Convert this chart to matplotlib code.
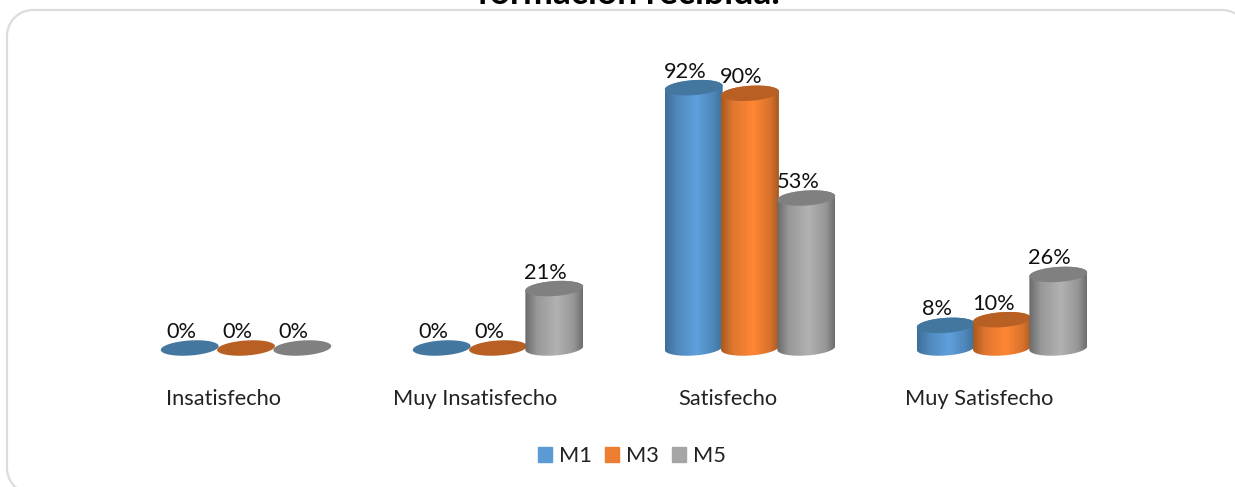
import numpy as np
import matplotlib
matplotlib.use('Agg')
import matplotlib.pyplot as plt
from matplotlib.colors import LinearSegmentedColormap
from matplotlib.patches import Patch, PathPatch, Polygon
from matplotlib.path import Path

categories = ['Insatisfecho', 'Muy Insatisfecho', 'Satisfecho', 'Muy Satisfecho']
series = ['M1', 'M3', 'M5']
m1 = [0, 0, 92, 8]
m3 = [0, 0, 90, 10]
m5 = [0, 21, 53, 26]
title = 'formación recibida.'

W, H = 1235, 487
base_px, unit_px = 348, 2.83  # y of the zero line, pixels per percent
first_px, group_px = 246, 252  # x of first group, distance between groups
bar_step = 56.3 / group_px
rx, ry, tilt = 29 / group_px, 7.5 / unit_px, np.radians(4)

legend_cols = ['#5b9bd5', '#ed7d31', '#a5a5a5']
top_cols = ['#44779f', '#b86024', '#808080']
grads = [['#3f6f98', '#4f88bb', '#5ea0de', '#4d85b6', '#3f7199'],
         ['#a85a20', '#df7630', '#ff8734', '#d9722c', '#a95b22'],
         ['#6a6a6a', '#989898', '#b2b2b2', '#969696', '#6e6e6e']]
stops = [0, 0.2, 0.55, 0.85, 1]

fig = plt.figure(figsize=(W / 100, H / 100), dpi=100)
plt.rcParams['font.family'] = ['Lato', 'DejaVu Sans']
ax = fig.add_axes([0, 0, 1, 1])
ax.axis('off')

# rounded chart border, in pixels, it runs past the right and bottom edges
left, right, top, bottom, rad = 7, 1248, 10, 494, 26
pts = []
for cx, cy, a0 in [(left + rad, top + rad, 180), (right - rad, top + rad, 270),
                   (right - rad, bottom - rad, 0), (left + rad, bottom - rad, 90)]:
    ang = np.radians(np.linspace(a0, a0 + 90, 20))
    pts += list(zip(cx + rad * np.cos(ang), H - (cy + rad * np.sin(ang))))
frame = PathPatch(Path(pts + pts[:1]), transform=None, fc='none', ec='#dcdcdc', lw=1.6, zorder=0)
ax.add_patch(frame)


def ellipse(cx, cy, a=0, b=np.pi * 2):
    t = np.linspace(a, b, 60)
    # tilt is done in pixel space so the shape does not depend on the scales
    px = rx * group_px * np.cos(t)
    py = ry * unit_px * np.sin(t)
    xx = px * np.cos(tilt) - py * np.sin(tilt)
    yy = px * np.sin(tilt) + py * np.cos(tilt)
    return cx + xx / group_px, cy + yy / unit_px


for s, vals in enumerate([m1, m3, m5]):
    cmap = LinearSegmentedColormap.from_list('c', list(zip(stops, grads[s])))
    for i, v in enumerate(vals):
        x = i + (s - 1) * bar_step
        z = 2 + s
        if v > 0:
            bx, by = ellipse(x, 0, np.pi, 2 * np.pi)
            tx, ty = ellipse(x, v, 0, np.pi)
            body = Polygon(np.c_[np.r_[bx, tx], np.r_[by, ty]], fc='none', ec='none',
                           transform=ax.transData, zorder=z)
            ax.add_patch(body)
            im = ax.imshow(np.linspace(0, 1, 100)[None, :], cmap=cmap, aspect='auto',
                           extent=(x - rx, x + rx, -5, v + 5), zorder=z)
            im.set_clip_path(body)
        ex, ey = ellipse(x, v)
        ax.add_patch(Polygon(np.c_[ex, ey], fc=top_cols[s], ec='none', zorder=z))
        ax.text(x - 8.5 / group_px, v + 16 / unit_px, f'{v}%', ha='center', va='center',
                fontsize=15.7, color='#111111', zorder=10)

ax.set_xlim(-first_px / group_px, (W - first_px) / group_px)
ax.set_ylim((base_px - H) / unit_px, base_px / unit_px)

for i, c in enumerate(categories):
    ax.text(i - 22.5 / group_px, (base_px - 399) / unit_px, c, ha='center', va='center',
            fontsize=15.7, color='#222222')

# the title is cut by the top of the picture in the original too
ax.text((628 - first_px) / group_px, (base_px - 4) / unit_px, title, ha='center', va='baseline',
        fontsize=25.5, fontweight='bold', color='black', clip_on=False)

handles = [Patch(color=c, label=s) for c, s in zip(legend_cols, series)]
ax.legend(handles=handles, loc='center', bbox_to_anchor=(632 / W, 1 - 456 / H), ncol=3,
          frameon=False, fontsize=15.7, handlelength=0.64, handleheight=0.64,
          handletextpad=0.3, columnspacing=0.63, labelcolor='#222222')

fig.savefig('out.png', dpi=100)
